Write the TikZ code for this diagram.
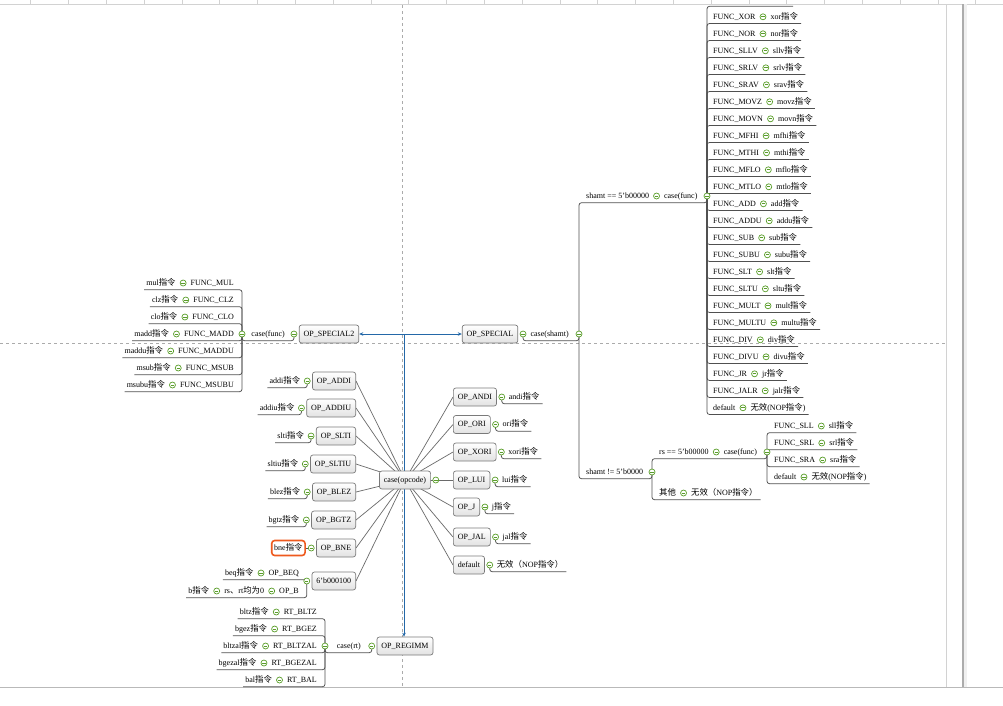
\documentclass[tikz,border=0pt]{standalone}
\usepackage{fontspec}
\setmainfont{Liberation Serif}
\newfontfamily\cjk[Scale=1.05]{Noto Sans CJK SC}
\newcommand\zh[1]{{\cjk #1}}
\usetikzlibrary{positioning,arrows.meta}
\pgfdeclarelayer{back}
\pgfdeclarelayer{bg}
\pgfsetlayers{back,bg,main}
\definecolor{linec}{HTML}{505050}
\definecolor{spokec}{HTML}{6A6A6A}
\definecolor{boxc}{HTML}{7A7A7A}
\definecolor{boxf}{HTML}{E2E2E2}
\definecolor{togc}{HTML}{5A9E2A}
\definecolor{bluec}{HTML}{2468A8}
\definecolor{dashc}{HTML}{ABABAB}
\definecolor{framec}{HTML}{D2D2D2}
\definecolor{hlc}{HTML}{EE5A1E}
\tikzset{
 txt/.style={inner xsep=0pt, inner ysep=2.75pt, text height=6pt, text depth=1.5pt},
 tog/.style={circle, draw=togc, fill=white, line width=0.7pt, minimum size=6pt, inner sep=0pt,
   path picture={\draw[togc,line width=0.7pt] ([xshift=-1.7pt]path picture bounding box.center) -- ([xshift=1.7pt]path picture bounding box.center);}},
 box/.style={draw=boxc, line width=0.7pt, rounded corners=2.5pt, top color=white, bottom color=boxf, inner xsep=4.5pt, inner ysep=0pt, minimum height=18pt, text height=6pt, text depth=1.5pt},
 hlbox/.style={draw=hlc, line width=1.6pt, rounded corners=3pt, fill=white, inner xsep=2.5pt, inner ysep=0pt, minimum height=15pt, text height=6pt, text depth=1.5pt},
 br/.style={draw=linec, line width=0.75pt, rounded corners=2.5pt},
 spoke/.style={draw=spokec, line width=0.7pt},
 rel/.style={draw=bluec, line width=1pt, -{Stealth[length=4pt,width=3.5pt]}},
}
\newcommand\rowR[5]{%
 \node[txt, anchor=west] (#1a) at (#2,#3) {#4};
 \node[tog, right=4pt of #1a] (#1t) {};
 \node[txt, right=4pt of #1t] (#1b) {#5};}
\newcommand\rowL[5]{%
 \node[txt, anchor=east] (#1a) at (#2,#3) {#4};
 \node[tog, left=4pt of #1a] (#1t) {};
 \node[txt, left=4pt of #1t] (#1b) {#5};}
\begin{document}
\begin{tikzpicture}[x=1pt,y=-1pt,font=\fontsize{8}{9.6}\selectfont]
\useasboundingbox (0,0) rectangle (1003,705);
\begin{pgfonlayer}{back}
\fill[white] (0,0) rectangle (1003,705);
\draw[framec, line width=0.8pt] (0,4) -- (1003,4);
\foreach \i in {0,...,25} \draw[framec, line width=0.8pt] ({30.7+37.8*\i},0) -- ({30.7+37.8*\i},4);
\draw[framec, line width=0.8pt] (946,4) -- (946,687);
\fill[gray!12] (963,4) rectangle (967,687);
\draw[gray!65, line width=1.4pt] (963,4) -- (963,687);
\draw[gray!55, line width=0.8pt] (0,687) -- (1003,687);
\draw[dashc, dashed, line width=0.8pt] (402,5) -- (402,687);
\draw[dashc, dashed, line width=0.8pt] (0,343) -- (946,343);
\end{pgfonlayer}

% ---- OP_SPECIAL branch ----
\node[box] (sp) at (490,334) {OP\_SPECIAL};
\node[tog, right=1.5pt of sp] (spt) {};
\node[txt, right=4pt of spt] (csh) {case(shamt)};
\node[tog] (csht) at (579,334) {};

\node[txt, anchor=west] (sh1) at (586,196) {shamt == 5'b00000};
\node[tog, right=4pt of sh1] (sh1t) {};
\node[txt, right=4pt of sh1t] (cf1) {case(func)};
\node[tog] (cfA) at (707,196) {};

\foreach \fa/\fb [count=\idx from 0] in {XOR/xor,NOR/nor,SLLV/sllv,SRLV/srlv,SRAV/srav,MOVZ/movz,MOVN/movn,MFHI/mfhi,MTHI/mthi,MFLO/mflo,MTLO/mtlo,ADD/add,ADDU/addu,SUB/sub,SUBU/subu,SLT/slt,SLTU/sltu,MULT/mult,MULTU/multu,DIV/div,DIVU/divu,JR/jr,JALR/jalr}
 {\rowR{r\idx}{713}{16.8+17*\idx}{FUNC\_\fa}{\fb\zh{指令}}}
\rowR{r23}{713}{407.8}{default}{\zh{无效}(NOP\zh{指令})}
\coordinate (rtop) at (793,6.3);

\node[txt, anchor=west] (sh2) at (586,472) {shamt != 5'b0000};
\node[tog] (sh2t) at (652,472) {};
\node[txt, anchor=west] (rs) at (659,452) {rs == 5'b00000};
\node[tog, right=4pt of rs] (rst) {};
\node[txt, right=4pt of rst] (cf2) {case(func)};
\node[tog] (cfB) at (767,452) {};
\foreach \fa/\fb [count=\idx from 0] in {SLL/sll,SRL/srl,SRA/sra}
 {\rowR{s\idx}{774}{426+17*\idx}{FUNC\_\fa}{\fb\zh{指令}}}
\rowR{s3}{774}{477}{default}{\zh{无效}(NOP\zh{指令})}
\rowR{oth}{659}{493}{\zh{其他}}{\zh{无效（}NOP\zh{指令）}}

% ---- OP_SPECIAL2 branch ----
\node[box] (sp2) at (329,334) {OP\_SPECIAL2};
\node[tog, left=1.5pt of sp2] (sp2t) {};
\node[txt, anchor=east] (cf3) at (285,334) {case(func)};
\node[tog] (cfC) at (242,334) {};
\foreach \fa/\fb [count=\idx from 0] in {MUL/mul,CLZ/clz,CLO/clo,MADD/madd,MADDU/maddu,MSUB/msub,MSUBU/msubu}
 {\rowL{l\idx}{234}{283+17*\idx}{FUNC\_\fa}{\fb\zh{指令}}}

% ---- case(opcode) ----
\node[box] (opc) at (405,480) {case(opcode)};
\node[tog, right=1.5pt of opc] (opct) {};

\foreach \nm/\yy/\lf in {ADDI/381/addi,ADDIU/408/addiu,SLTI/436/slti,SLTIU/464/sltiu,BLEZ/492/blez,BGTZ/520/bgtz}{
 \node[box, anchor=east] (L\lf) at (356,\yy) {OP\_\nm};
 \node[tog, left=1.5pt of L\lf] (L\lf t) {};
 \node[txt, left=3.5pt of L\lf t] (L\lf l) {\lf\zh{指令}};
}
\node[box, anchor=east] (Lbne) at (356,548) {OP\_BNE};
\node[tog, left=1.5pt of Lbne] (bnet) {};
\node[hlbox, left=2pt of bnet] (bnel) {bne\zh{指令}};

\node[box, anchor=east] (b6) at (356,581) {6'b000100};
\node[tog, left=1.5pt of b6] (t6) {};
\rowL{beq}{299}{573}{OP\_BEQ}{beq\zh{指令}}
\node[txt, anchor=east] (ba) at (299,591) {OP\_B};
\node[tog, left=4pt of ba] (bt1) {};
\node[txt, left=4pt of bt1] (bb) {rs\zh{、}rt\zh{均为}0};
\node[tog, left=4pt of bb] (bt2) {};
\node[txt, left=4pt of bt2] (bc) {b\zh{指令}};

\foreach \nm/\yy/\lf in {ANDI/397/andi,ORI/424.5/ori,XORI/452/xori,LUI/480/lui,J/507/j,JAL/537/jal}{
 \node[box, anchor=west] (R\lf) at (453,\yy) {OP\_\nm};
 \node[tog, right=1.5pt of R\lf] (R\lf t) {};
 \node[txt, right=3.5pt of R\lf t] (R\lf l) {\lf\zh{指令}};
}
\node[box, anchor=west] (Rdef) at (453,565) {default};
\node[tog, right=1.5pt of Rdef] (Rdeft) {};
\node[txt, right=3.5pt of Rdeft] (Rdefl) {\zh{无效（}NOP\zh{指令）}};

% ---- OP_REGIMM ----
\node[box] (rg) at (405,646) {OP\_REGIMM};
\node[tog, left=1.5pt of rg] (rgt) {};
\node[txt, anchor=east] (crt) at (361,646) {case(rt)};
\node[tog] (cfD) at (325,646) {};
\foreach \fa/\fb [count=\idx from 0] in {BLTZ/bltz,BGEZ/bgez,BLTZAL/bltzal,BGEZAL/bgezal,BAL/bal}
 {\rowL{g\idx}{317}{612+17*\idx}{RT\_\fa}{\fb\zh{指令}}}

% ---- connectors ----
\begin{pgfonlayer}{bg}
\draw[br] (spt.center) |- (csh.south) -| (csht.center);
\draw[br] (csht.center) |- (cf1.south) -| (cfA.center);
\draw[br] (cfA.center) |- (rtop);
\foreach \idx in {0,...,23} \draw[br] (cfA.center) |- ([xshift=3pt]r\idx b.south east);
\draw[br] (csht.center) |- (sh2.south) -| (sh2t.center);
\draw[br] (sh2t.center) |- (cf2.south) -| (cfB.center);
\draw[br] (sh2t.center) |- ([xshift=3pt]othb.south east);
\foreach \idx in {0,...,3} \draw[br] (cfB.center) |- ([xshift=3pt]s\idx b.south east);
\draw[br] (sp2t.center) |- (cf3.south) -| (cfC.center);
\foreach \idx in {0,...,6} \draw[br] (cfC.center) |- ([xshift=-2pt]l\idx b.south west);
\foreach \lf in {addi,addiu,slti,sltiu,blez,bgtz}{
 \draw[spoke] (opc.center) -- (L\lf.east);
 \draw[br] (L\lf t.center) |- ([xshift=-2pt]L\lf l.south west);
}
\draw[spoke] (opc.center) -- (Lbne.east);
\draw[br] (bnet.center) -- (bnel.east);
\draw[spoke] (opc.center) -- (b6.east);
\draw[br] (t6.center) |- ([xshift=-2pt]beqb.south west);
\draw[br] (t6.center) |- ([xshift=-2pt]bc.south west);
\foreach \lf in {andi,ori,xori,lui,j,jal,def}{
 \draw[spoke] (opc.center) -- (R\lf.west);
 \draw[br] (R\lf t.center) |- ([xshift=3pt]R\lf l.south east);
}
\draw[br] (rgt.center) |- (crt.south) -| (cfD.center);
\foreach \idx in {0,...,4} \draw[br] (cfD.center) |- ([xshift=-2pt]g\idx b.south west);
\coordinate (bj) at (404,334);
\draw[rel] (bj) -- (sp2.east);
\draw[rel] (bj) -- (sp.west);
\draw[rel] (bj) -- (bj |- rg.north);
\end{pgfonlayer}
\end{tikzpicture}
\end{document}
